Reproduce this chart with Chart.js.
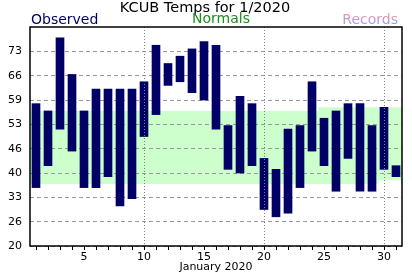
<!DOCTYPE html>
<html>
<head>
<meta charset="utf-8">
<script src="https://cdn.jsdelivr.net/npm/chart.js@4"></script>
<style>
  body { margin: 0; background: #fff; }
</style>
</head>
<body>
<canvas id="tempChart" width="412" height="276"></canvas>
<script>
// Daily data for KCUB, January 2020
const days = ['1', '2', '3', '4', '5', '6', '7', '8', '9', '10', '11', '12', '13', '14', '15', '16',
  '17', '18', '19', '20', '21', '22', '23', '24', '25', '26', '27', '28', '29', '30', '31'];
const obsLow = [36, 42, 52, 46, 36, 36, 39, 31, 33, 50, 56, 64, 65, 62, 60, 52,
  41, 40, 42, 30, 28, 29, 36, 46, 42, 35, 44, 35, 35, 41, 39];
const obsHigh = [59, 57, 77, 67, 57, 63, 63, 63, 63, 65, 75, 70, 72, 74, 76, 75,
  53, 61, 59, 44, 41, 52, 53, 65, 55, 57, 59, 59, 53, 58, 42];
const normalLow = [37, 37, 37, 37, 37, 37, 37, 37, 37, 37, 37, 37, 37, 37, 37, 37,
  37, 37, 37, 37, 37, 37, 37, 37, 37, 37, 37, 37, 37, 38, 38];
const normalHigh = [57, 57, 57, 57, 57, 57, 57, 57, 57, 57, 57, 57, 57, 57, 57, 57,
  57, 57, 57, 57, 57, 57, 57, 57, 58, 58, 58, 58, 58, 58, 58];
const yTickValues = [20, 26.667, 33.333, 40, 46.667, 53.333, 60, 66.667, 73.333];
const yTickLabels = ['20', '26', '33', '40', '46', '53', '59', '66', '73'];

const FONT = '"DejaVu Sans", Verdana, sans-serif';

// normals band sits under the grid lines, so paint it before the scales
const normalsBand = {
  id: 'normalsBand',
  beforeDraw(chart) {
    const { ctx, scales: { x, y } } = chart;
    ctx.save();
    ctx.fillStyle = '#ccffcc';
    for (let i = 0; i < days.length; i++) {
      const left = x.getPixelForValue(i - 0.5);
      const right = x.getPixelForValue(i + 0.5);
      const top = y.getPixelForValue(normalHigh[i]);
      const bottom = y.getPixelForValue(normalLow[i]);
      ctx.fillRect(left, top, right - left + 0.5, bottom - top);
    }
    ctx.restore();
  }
};

// frame + title + the three coloured headings
const headerAndFrame = {
  id: 'headerAndFrame',
  afterDraw(chart) {
    const { ctx, chartArea: a } = chart;
    ctx.save();
    ctx.strokeStyle = '#000';
    ctx.lineWidth = 1.5;
    ctx.strokeRect(a.left, a.top, a.right - a.left, a.bottom - a.top);

    ctx.textBaseline = 'alphabetic';
    ctx.font = '14.5px ' + FONT;
    ctx.fillStyle = '#000';
    ctx.textAlign = 'center';
    ctx.fillText('KCUB Temps for 1/2020', 205, 12);

    ctx.font = '14px ' + FONT;
    ctx.textAlign = 'left';
    ctx.fillStyle = '#000066';
    ctx.fillText('Observed', 31, 24);

    ctx.textAlign = 'center';
    ctx.fillStyle = '#1e8c1e';
    ctx.fillText('Normals', 221, 23);

    const g = ctx.createLinearGradient(0, 13, 0, 24);
    g.addColorStop(0, '#ff9999');
    g.addColorStop(1, '#9999ff');
    ctx.fillStyle = g;
    ctx.textAlign = 'right';
    ctx.fillText('Records', 398, 24);
    ctx.restore();
  }
};

new Chart(document.getElementById('tempChart'), {
  type: 'bar',
  data: {
    labels: days,
    datasets: [{
      label: 'Observed',
      data: days.map((d, i) => [obsLow[i], obsHigh[i]]),
      backgroundColor: '#000066',
      barThickness: 8,
      borderWidth: 0
    }]
  },
  options: {
    responsive: false,
    animation: false,
    layout: { padding: { top: 27, right: 10, left: 0, bottom: 0 } },
    plugins: {
      legend: { display: false },
      tooltip: { enabled: false }
    },
    scales: {
      x: {
        offset: true,
        afterFit(scale) { scale.height = 30; },
        grid: {
          offset: false,
          z: 1,
          color: (c) => (c.tick && Number(days[c.index]) % 10 === 0) ? '#808080' : 'rgba(0,0,0,0)',
          tickColor: '#000',
          tickLength: 4,
          lineWidth: 1
        },
        border: { display: false, dash: [1, 2] },
        ticks: {
          autoSkip: false,
          maxRotation: 0,
          padding: 1,
          color: '#000',
          font: { family: FONT, size: 11 },
          callback: (v, i) => Number(days[i]) % 5 === 0 ? days[i] : ''
        },
        title: {
          display: true,
          text: 'January 2020',
          color: '#000',
          font: { family: FONT, size: 11 },
          padding: { top: 0, bottom: 2 }
        }
      },
      y: {
        min: 20,
        max: 80,
        afterBuildTicks(axis) { axis.ticks = yTickValues.map(v => ({ value: v })); },
        afterFit(scale) { scale.width = 30; },
        grid: { color: '#999', drawTicks: false, lineWidth: 1 },
        border: { display: false, dash: [4, 3] },
        ticks: {
          padding: 8,
          color: '#000',
          font: { family: FONT, size: 11 },
          callback: (v, i) => yTickLabels[i]
        }
      }
    }
  },
  plugins: [normalsBand, headerAndFrame]
});
</script>
</body>
</html>
